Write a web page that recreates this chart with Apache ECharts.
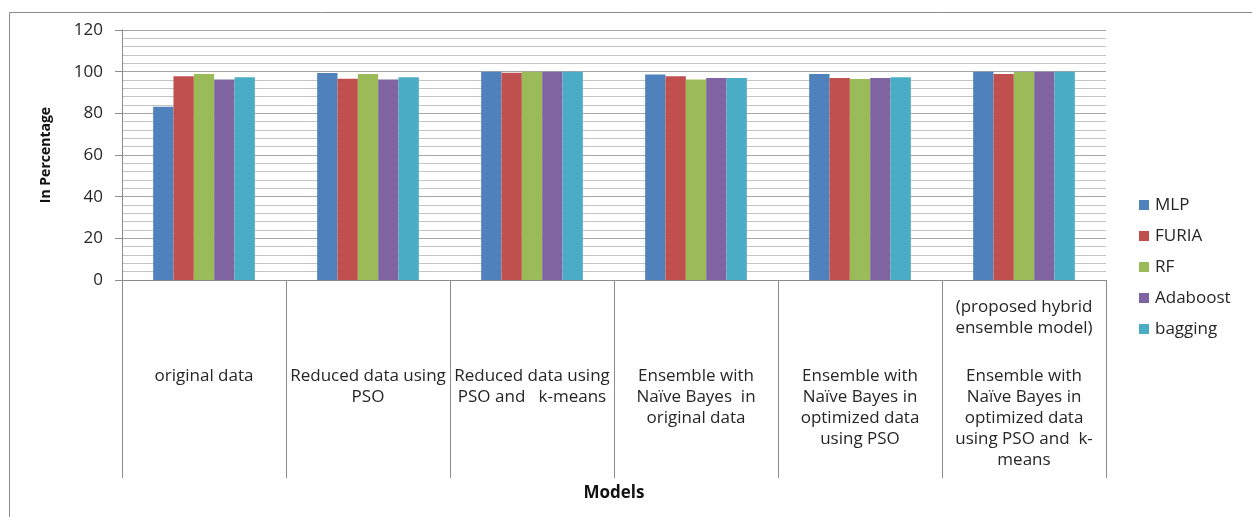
<!DOCTYPE html>
<html>
<head>
<meta charset="utf-8">
<script src="https://cdn.jsdelivr.net/npm/echarts@6/dist/echarts.min.js"></script>
<style>
  html, body { margin: 0; padding: 0; background: #fff; }
  #chart { width: 1252px; height: 517px; }
</style>
</head>
<body>
<div id="chart"></div>
<script>
// Model configurations (x-axis categories)
const categories = [
  'original data',
  'Reduced data using\nPSO',
  'Reduced data using\nPSO and   k-means',
  'Ensemble with\nNaïve Bayes  in\noriginal data',
  'Ensemble with\nNaïve Bayes in\noptimized data\nusing PSO',
  'Ensemble with\nNaïve Bayes in\noptimized data\nusing PSO and  k-\nmeans'
];
// Extra note shown above a category's label
const categoryNotes = ['', '', '', '', '', '(proposed hybrid\nensemble model)'];

const seriesNames = ['MLP', 'FURIA', 'RF', 'Adaboost', 'bagging'];

// Accuracy in percentage, one array per classifier
const mlp      = [83.2, 99.4, 100.0, 98.6, 98.9, 100.0];
const furia    = [97.8, 96.6, 99.5, 97.8, 97.0, 98.9];
const rf       = [98.9, 98.9, 100.0, 96.2, 96.5, 99.8];
const adaboost = [96.2, 96.2, 100.0, 97.0, 97.0, 100.0];
const bagging  = [97.3, 97.3, 100.0, 97.0, 97.3, 100.0];

const yTicks = [0, 20, 40, 60, 80, 100, 120];

const colors = ['#4F81BD', '#C0504D', '#9BBB59', '#8064A2', '#4BACC6'];
const seriesData = [mlp, furia, rf, adaboost, bagging];

const FONT = '"Open Sans", "Noto Sans", sans-serif';
const TEXT = '#262626';

function categoryLabel(value, index) {
  const main = value.split('\n').map(l => '{t|' + l + '}').join('\n');
  const note = categoryNotes[index];
  if (note) {
    return note.split('\n').map(l => '{t|' + l + '}').join('\n') + '\n{gap| }\n' + main;
  }
  return '{pad| }\n' + main;
}

const chart = echarts.init(document.getElementById('chart'), null, { renderer: 'canvas' });

chart.setOption({
  backgroundColor: '#ffffff',
  animation: false,
  color: colors,
  graphic: [{
    type: 'rect',
    left: 7, top: 10,
    shape: { width: 1300, height: 560 },
    style: { fill: 'none', stroke: '#8c8c8c', lineWidth: 1 },
    silent: true
  }],
  legend: {
    orient: 'vertical',
    left: 1139,
    top: 196,
    padding: 0,
    icon: 'rect',
    itemWidth: 10,
    itemHeight: 10,
    itemGap: 13,
    data: seriesNames,
    textStyle: { fontFamily: FONT, fontSize: 17, color: TEXT, lineHeight: 18, padding: [0, 0, 0, 1] }
  },
  grid: { left: 122, right: 146, top: 30, bottom: 237, containLabel: false },
  xAxis: {
    type: 'category',
    data: categories,
    name: 'Models',
    nameLocation: 'middle',
    nameGap: 213,
    nameTextStyle: { fontFamily: FONT, fontSize: 17, fontWeight: 'bold', color: '#111', verticalAlign: 'middle' },
    axisLine: { show: true, lineStyle: { color: '#8c8c8c', width: 1 } },
    axisTick: { show: true, interval: 0, length: 198, lineStyle: { color: '#8c8c8c', width: 1 } },
    axisLabel: {
      interval: 0,
      margin: 17,
      verticalAlign: 'top',
      fontFamily: FONT,
      fontSize: 17,
      color: TEXT,
      formatter: categoryLabel,
      rich: {
        t: { fontFamily: FONT, fontSize: 17, color: TEXT, lineHeight: 21 },
        gap: { fontSize: 15, lineHeight: 27 },
        pad: { fontSize: 15, lineHeight: 69 }
      }
    },
    splitLine: { show: false }
  },
  yAxis: {
    type: 'value',
    min: yTicks[0],
    max: yTicks[yTicks.length - 1],
    interval: 20,
    name: 'In Percentage',
    nameLocation: 'middle',
    nameGap: 76,
    nameRotate: 90,
    nameTextStyle: { fontFamily: FONT, fontSize: 14, fontWeight: 'bold', color: '#111', verticalAlign: 'middle' },
    axisLine: { show: true, lineStyle: { color: '#8c8c8c', width: 1 } },
    axisTick: { show: true, length: 7, lineStyle: { color: '#8c8c8c' } },
    axisLabel: { margin: 19, fontFamily: FONT, fontSize: 17, color: TEXT },
    splitLine: { show: true, lineStyle: { color: '#a6a6a6', width: 1 } },
    minorTick: { show: false, splitNumber: 5 },
    minorSplitLine: { show: true, lineStyle: { color: '#c4c4c4', width: 1 } }
  },
  series: seriesNames.map((name, i) => ({
    name: name,
    type: 'bar',
    data: seriesData[i],
    barGap: '0%',
    barCategoryGap: '38%',
    itemStyle: { color: colors[i] }
  }))
});
</script>
</body>
</html>
